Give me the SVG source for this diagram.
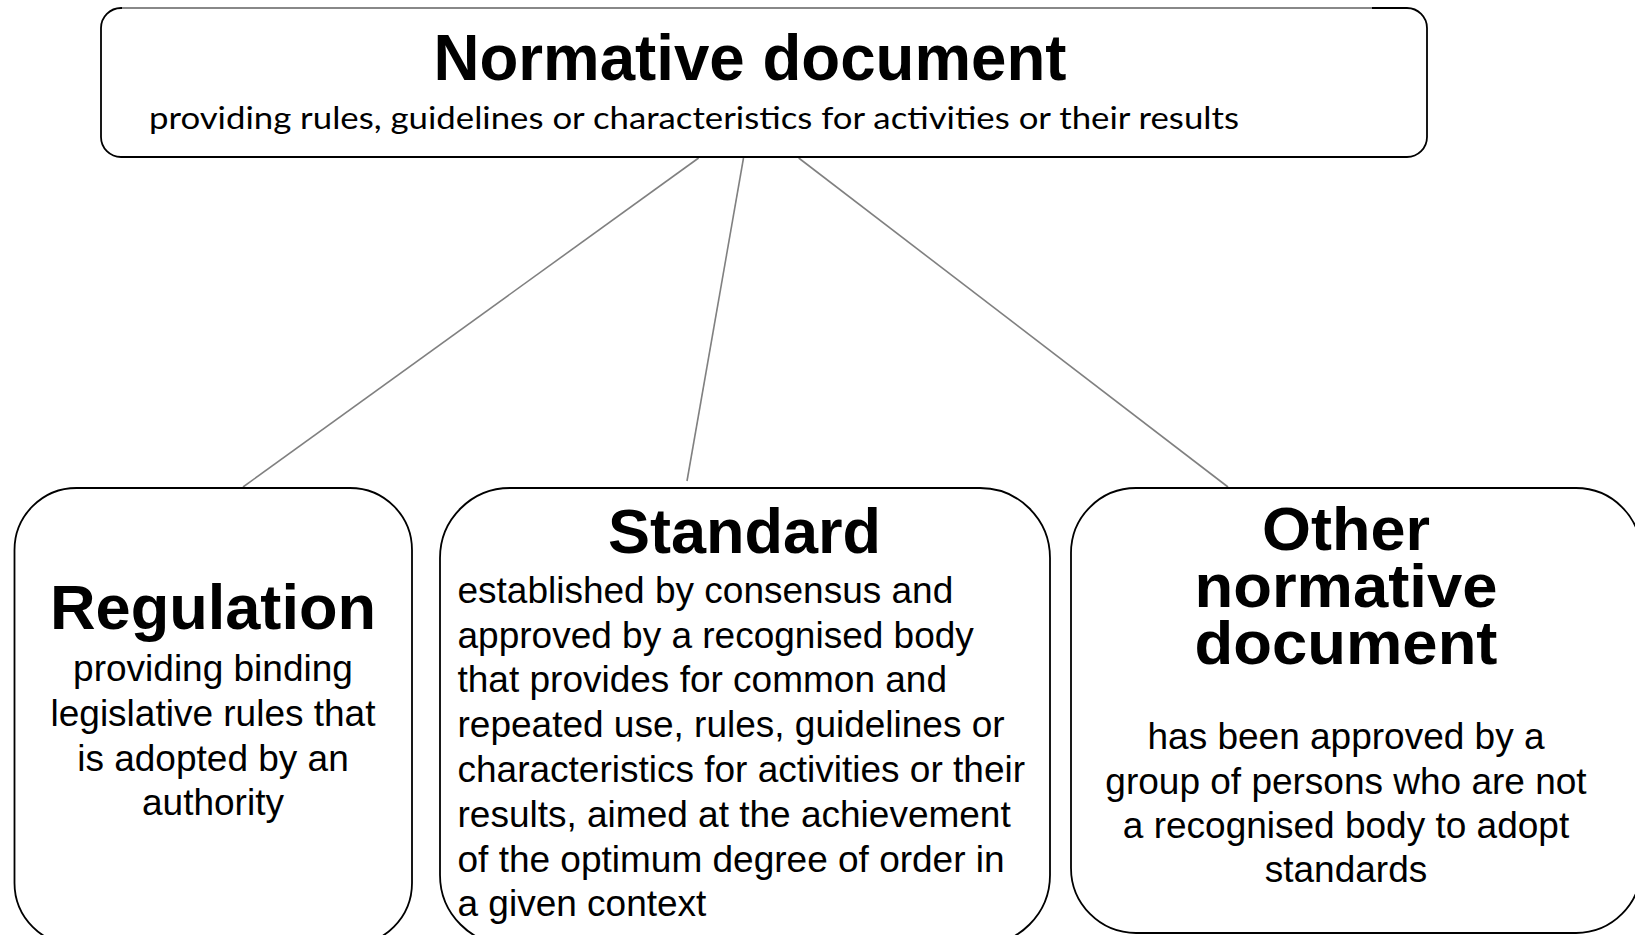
<svg xmlns="http://www.w3.org/2000/svg" width="1635" height="935" viewBox="0 0 1635 935">
<style>
.box{fill:#fff;stroke:#000;stroke-width:1.8}
.conn{stroke:#808080;stroke-width:1.6;fill:none}
.title{font-family:"Liberation Sans",Arial,sans-serif;font-weight:bold;fill:#000;text-anchor:middle}
.body{font-family:"Liberation Sans",Arial,sans-serif;font-size:37px;fill:#000}
.mid{text-anchor:middle}
.sub{font-family:Lato,"Open Sans",sans-serif;font-size:30px;fill:#000}
</style>
<rect width="1635" height="935" fill="#fff"/>
<g id="connectors">
<line class="conn" x1="698.6" y1="158" x2="243" y2="487"/>
<line class="conn" x1="743.5" y1="158" x2="687" y2="481"/>
<line class="conn" x1="798.7" y1="158" x2="1228" y2="487"/>
</g>
<g id="normative-document">
<rect class="box" x="101" y="8" width="1326" height="149" rx="20" ry="20"/>
<line x1="122" y1="8" x2="1372" y2="8" stroke="#888" stroke-width="1.8"/>
<text class="title" x="750" y="80" font-size="64" textLength="633" lengthAdjust="spacingAndGlyphs">Normative document</text>
<text class="sub" x="149" y="129" textLength="1090" lengthAdjust="spacingAndGlyphs">providing rules, guidelines or characteristics for activities or their results</text>
</g>
<g id="regulation">
<rect class="box" x="14.5" y="488" width="397.5" height="457" rx="62" ry="62"/>
<text class="title" x="213" y="629" font-size="63" textLength="326" lengthAdjust="spacingAndGlyphs">Regulation</text>
<text class="body mid" x="213" y="681">providing binding</text>
<text class="body mid" x="213" y="726">legislative rules that</text>
<text class="body mid" x="213" y="771">is adopted by an</text>
<text class="body mid" x="213" y="815">authority</text>
</g>
<g id="standard">
<rect class="box" x="440" y="488" width="610" height="457" rx="70" ry="70"/>
<text class="title" x="744.5" y="553" font-size="63" textLength="273" lengthAdjust="spacingAndGlyphs">Standard</text>
<text class="body" x="457.5" y="603">established by consensus and</text>
<text class="body" x="457.5" y="648">approved by a recognised body</text>
<text class="body" x="457.5" y="692">that provides for common and</text>
<text class="body" x="457.5" y="737">repeated use, rules, guidelines or</text>
<text class="body" x="457.5" y="782">characteristics for activities or their</text>
<text class="body" x="457.5" y="827">results, aimed at the achievement</text>
<text class="body" x="457.5" y="872">of the optimum degree of order in</text>
<text class="body" x="457.5" y="916">a given context</text>
</g>
<g id="other-normative-document">
<rect class="box" x="1071" y="488" width="570" height="445" rx="65" ry="65"/>
<text class="title" x="1346" y="550" font-size="62" textLength="168" lengthAdjust="spacingAndGlyphs">Other</text>
<text class="title" x="1346" y="607" font-size="62" textLength="303" lengthAdjust="spacingAndGlyphs">normative</text>
<text class="title" x="1346" y="664" font-size="62" textLength="303" lengthAdjust="spacingAndGlyphs">document</text>
<text class="body mid" x="1346" y="749">has been approved by a</text>
<text class="body mid" x="1346" y="794">group of persons who are not</text>
<text class="body mid" x="1346" y="838">a recognised body to adopt</text>
<text class="body mid" x="1346" y="882">standards</text>
</g>
</svg>
